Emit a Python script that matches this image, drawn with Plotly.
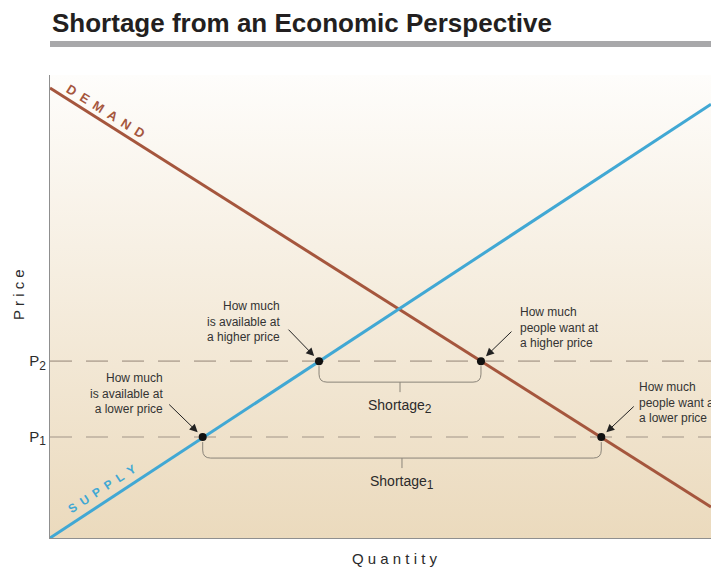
import plotly.graph_objects as go

# ---- data ----
quantity_range = [0, 10]
price_range = [0, 10]
supply_q = [0, 10]
supply_p = [0, 9.37]
demand_q = [0, 10]
demand_p = [9.72, 0.67]
price_levels = [2.18, 3.82]           # P1, P2
price_labels = ["P<sub><span style='font-size:12px'>1</span></sub>",
                "P<sub><span style='font-size:12px'>2</span></sub>"]
qty_supplied = [2.31, 4.07]           # at P1, P2
qty_demanded = [8.34, 6.52]           # at P1, P2
shortage_labels = ["Shortage<sub><span style='font-size:12px'>1</span></sub>",
                   "Shortage<sub><span style='font-size:12px'>2</span></sub>"]

W, H = 711, 570
ML, MR, MT, MB = 50, 0, 75, 32
px_x = (W - ML - MR) / (quantity_range[1] - quantity_range[0])
px_y = (H - MT - MB) / (price_range[1] - price_range[0])

DEMAND_C = "#a5563d"
SUPPLY_C = "#41a8d4"
TXT = "#2b2b2b"
FONT = "Liberation Sans, Arial, sans-serif"

fig = go.Figure()

# background gradient
fig.add_trace(go.Scatter(
    x=[quantity_range[0], quantity_range[1], quantity_range[1], quantity_range[0], quantity_range[0]],
    y=[price_range[0], price_range[0], price_range[1], price_range[1], price_range[0]],
    fill="toself", mode="none",
    fillgradient=dict(type="vertical", colorscale=[[0, "#ebdabd"], [1, "#fefdfb"]]),
    hoverinfo="skip", showlegend=False))

# dashed price lines
for p in price_levels:
    fig.add_trace(go.Scatter(x=quantity_range, y=[p, p], mode="lines",
                             line=dict(color="#bcae9e", width=1.6, dash="22px,14px"),
                             hoverinfo="skip", showlegend=False))

# supply / demand
fig.add_trace(go.Scatter(x=demand_q, y=demand_p, mode="lines",
                         line=dict(color=DEMAND_C, width=3), hoverinfo="skip", showlegend=False))
fig.add_trace(go.Scatter(x=supply_q, y=supply_p, mode="lines",
                         line=dict(color=SUPPLY_C, width=3), hoverinfo="skip", showlegend=False))

# points
fig.add_trace(go.Scatter(x=qty_supplied + qty_demanded, y=price_levels + price_levels,
                         mode="markers", marker=dict(color="#111", size=8),
                         hoverinfo="skip", showlegend=False))

shapes = []
annotations = []

# brackets
for p, qa, qb, lab in zip(price_levels, qty_supplied, qty_demanded, shortage_labels):
    yt = p - 5 / px_y
    yb = p - 21 / px_y
    rx, ry = 8 / px_x, 8 / px_y
    qm = (qa + qb) / 2
    path = (f"M {qa},{yt} L {qa},{yb+ry} Q {qa},{yb} {qa+rx},{yb} "
            f"L {qb-rx},{yb} Q {qb},{yb} {qb},{yb+ry} L {qb},{yt} "
            f"M {qm},{yb} L {qm},{yb - 10/px_y}")
    shapes.append(dict(type="path", path=path, xref="x", yref="y",
                       line=dict(color="#8a8479", width=1)))
    annotations.append(dict(x=qm, y=p, xref="x", yref="y", text=lab, showarrow=False,
                            yshift=-45, font=dict(family=FONT, size=14, color=TXT)))

# arrows + texts
callouts = [
    (qty_supplied[1], price_levels[1], -32, -33, "How much<br>is available at<br>a higher price", "right", -37, 40),
    (qty_supplied[0], price_levels[0], -35, -34, "How much<br>is available at<br>a lower price", "right", -38, 44),
    (qty_demanded[1], price_levels[1], 32, -31, "How much<br>people want at<br>a higher price", "left", 37, 34),
    (qty_demanded[0], price_levels[0], 34, -32, "How much<br>people want at<br>a lower price", "left", 36, 35),
]
for q, p, ax, ay, txt, side, xs, ys in callouts:
    annotations.append(dict(x=q, y=p, xref="x", yref="y", text="", showarrow=True,
                            ax=ax, ay=ay, arrowhead=2, arrowsize=1.6, arrowwidth=1,
                            arrowcolor="#222", standoff=7))
    annotations.append(dict(x=q, y=p, xref="x", yref="y", text=txt, showarrow=False,
                            xanchor=side, align=side, yanchor="middle", xshift=xs, yshift=ys,
                            font=dict(family=FONT, size=12, color="#333")))

# curve labels
sp = "\u2002"
annotations.append(dict(x=(106 - ML) / px_x, y=(H - MB - 111) / px_y, xref="x", yref="y",
                        text=sp.join("DEMAND"), showarrow=False, textangle=32,
                        font=dict(family=FONT, size=13, color=DEMAND_C, weight="bold")))
annotations.append(dict(x=(102 - ML) / px_x, y=(H - MB - 489) / px_y, xref="x", yref="y",
                        text=sp.join("SUPPLY"), showarrow=False, textangle=-33,
                        font=dict(family=FONT, size=12, color=SUPPLY_C, weight="bold")))

# axis titles
annotations.append(dict(x=-31 / (W - ML - MR), y=0.525, xref="paper", yref="paper",
                        text="P r i c e", showarrow=False, textangle=-90,
                        xanchor="center", yanchor="middle",
                        font=dict(family=FONT, size=15, color=TXT)))
annotations.append(dict(x=(395 - ML) / (W - ML - MR), y=-20 / (H - MT - MB), xref="paper", yref="paper",
                        text="Q u a n t i t y", showarrow=False,
                        xanchor="center", yanchor="middle",
                        font=dict(family=FONT, size=15, color=TXT)))

# title
annotations.append(dict(x=0, y=(H - MB - 23) / (H - MT - MB), xref="paper", yref="paper",
                        text="<b>Shortage from an Economic Perspective</b>", showarrow=False,
                        xanchor="left", yanchor="middle",
                        font=dict(family=FONT, size=26, color="#231f20")))
shapes.append(dict(type="rect", xref="paper", yref="paper", x0=0, x1=1.02,
                   y0=(H - MB - 47) / (H - MT - MB), y1=(H - MB - 41) / (H - MT - MB),
                   fillcolor="#a8a8aa", line=dict(width=0)))

fig.update_layout(
    width=W, height=H, margin=dict(l=ML, r=MR, t=MT, b=MB),
    paper_bgcolor="white", plot_bgcolor="white",
    shapes=shapes, annotations=annotations, showlegend=False,
    xaxis=dict(range=quantity_range, showgrid=False, zeroline=False, showline=True,
               linecolor="#8f8f8f", linewidth=1, showticklabels=False, ticks=""),
    yaxis=dict(range=price_range, showgrid=False, zeroline=False, showline=True,
               linecolor="#8f8f8f", linewidth=1, tickvals=price_levels, ticktext=price_labels,
               ticks="", tickfont=dict(family=FONT, size=15, color=TXT)),
)
fig.write_html("out.html", config={"displayModeBar": False},
               post_script="document.body.style.margin='0';document.body.style.overflow='hidden';")
